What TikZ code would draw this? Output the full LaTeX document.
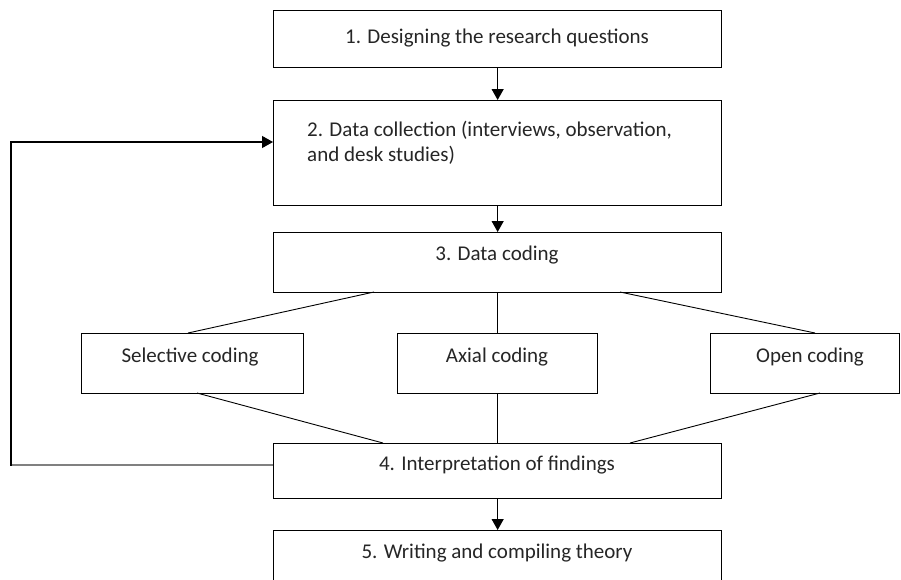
\documentclass[tikz,border=0pt]{standalone}
\usepackage{fontspec}
\setmainfont{Carlito}
\usetikzlibrary{arrows.meta}
\definecolor{txtc}{HTML}{262626}
\definecolor{fbgray}{HTML}{808080}
\begin{document}
\begin{tikzpicture}[x=1pt,y=-1pt,
  box/.style={draw=black,line width=1.3pt,rectangle,anchor=north west,inner sep=0pt,fill=white},
  txt/.style={font=\fontsize{21}{26}\selectfont,text=txtc,inner sep=0pt},
  arr/.style={line width=1.2pt,-{Triangle[length=11pt,width=12pt]}},
  thin/.style={line width=0.9pt,black}]
\clip (0,0) rectangle (901,579);
\fill[white] (0,0) rectangle (901,579);
% boxes
\node[box,minimum width=448pt,minimum height=57pt] (b1) at (273,10) {};
\node[box,minimum width=448pt,minimum height=105pt] (b2) at (273,100) {};
\node[box,minimum width=448pt,minimum height=60pt] (b3) at (273,232) {};
\node[box,minimum width=222pt,minimum height=60pt] (s) at (81,333) {};
\node[box,minimum width=200pt,minimum height=60pt] (a) at (397,333) {};
\node[box,minimum width=189pt,minimum height=60pt] (o) at (710,333) {};
\node[box,minimum width=448pt,minimum height=55pt] (b4) at (273,443) {};
\node[box,minimum width=448pt,minimum height=70pt] (b5) at (273,530) {};
% texts
\node[txt] (t1) at (497,38) {1. Designing the research questions};
\node[txt,anchor=west] (t2a) at (307,130) {2. Data collection (interviews, observation,};
\node[txt,anchor=west] (t2b) at (307,155) {and desk studies)};
\node[txt] (t3) at (497,255) {3. Data coding};
\node[txt] (ts) at (190,357) {Selective coding};
\node[txt] (ta) at (497,357) {Axial coding};
\node[txt] (to) at (810,357) {Open coding};
\node[txt] (t4) at (497,465) {4. Interpretation of findings};
\node[txt] (t5) at (497,553) {5. Writing and compiling theory};
% arrows
\draw[arr] (b1.south) -- (b2.north);
\draw[arr] (b2.south) -- (b3.north);
\draw[arr] (b4.south) -- (b5.north);
% coding connectors
\coordinate (b3l) at (374,292);
\coordinate (b3r) at (620,292);
\coordinate (sT) at (188,333);
\coordinate (oT) at (815,333);
\coordinate (sB) at (197,393);
\coordinate (oB) at (820,393);
\coordinate (b4l) at (383,443);
\coordinate (b4r) at (630,443);
\draw[thin] (b3l) -- (sT);
\draw[thin] (b3r) -- (oT);
\draw[thin] (b3.south) -- (a.north);
\draw[thin] (sB) -- (b4l);
\draw[thin] (oB) -- (b4r);
\draw[thin] (a.south) -- (b4.north);
% feedback loop
\coordinate (fb4) at (273,465);
\coordinate (corner) at (11,465);
\coordinate (fb2) at (273,142);
\draw[fbgray,line width=1.6pt] (fb4) -- (corner);
\draw[black,line width=1.2pt,-{Triangle[length=11pt,width=12pt]}] ([yshift=-0.8pt]corner) |- (fb2);
\end{tikzpicture}
\end{document}
